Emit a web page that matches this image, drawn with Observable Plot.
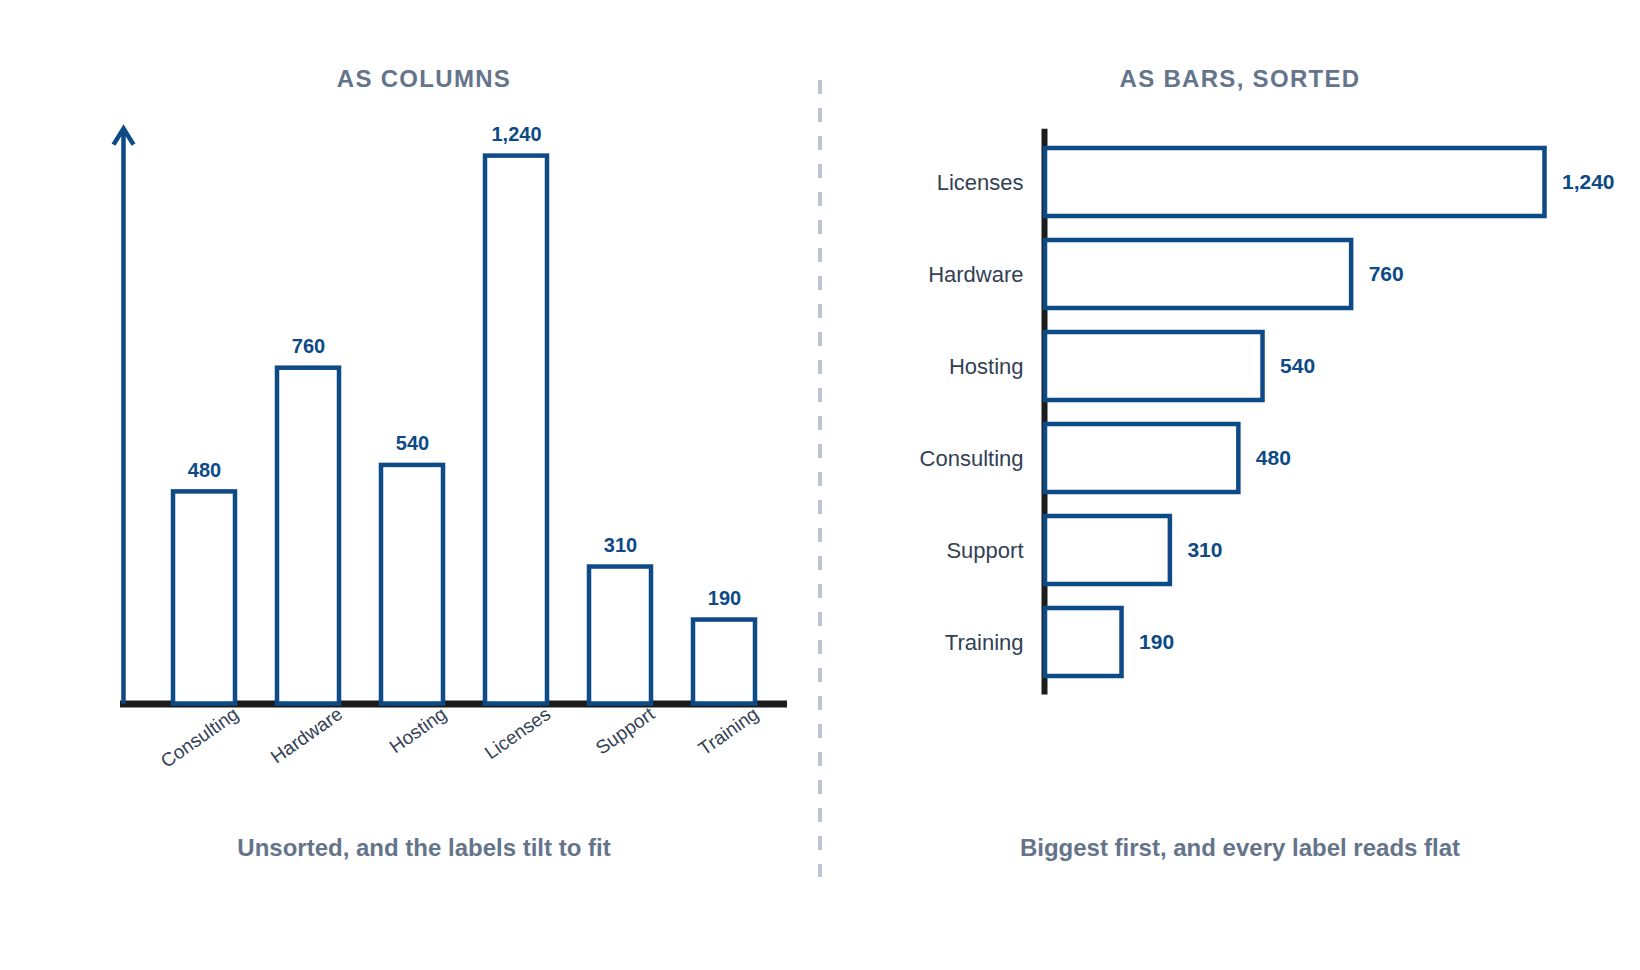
<!DOCTYPE html>
<html>
<head>
<meta charset="utf-8">
<script src="https://cdn.jsdelivr.net/npm/d3@7"></script>
<script src="https://cdn.jsdelivr.net/npm/@observablehq/plot@0.6"></script>
<style>
  html, body { margin: 0; padding: 0; background: #ffffff; }
  #page { position: relative; width: 1640px; height: 970px; overflow: hidden;
          font-family: "Liberation Sans", Arial, Helvetica, sans-serif; }
  .title { position: absolute; top: 67px; width: 600px; text-align: center; font-size: 24px;
           font-weight: 700; letter-spacing: 1.3px; color: #64748b; line-height: 24px; }
  .caption { position: absolute; top: 836px; width: 600px; text-align: center; font-size: 24px;
             font-weight: 700; color: #64748b; line-height: 24px; }
  .chart { position: absolute; top: 0; }
  #divider { position: absolute; left: 0; top: 0; }
</style>
</head>
<body>
<div id="page">
  <div class="title" style="left:124px">AS COLUMNS</div>
  <div class="title" style="left:940px">AS BARS, SORTED</div>
  <div id="left" class="chart" style="left:0px"></div>
  <div id="right" class="chart" style="left:820px"></div>
  <svg id="divider" width="1640" height="970">
    <line x1="820" x2="820" y1="80" y2="877" stroke="#bcc6d2" stroke-width="4" stroke-dasharray="14 14"></line>
  </svg>
  <div class="caption" style="left:124px">Unsorted, and the labels tilt to fit</div>
  <div class="caption" style="left:940px">Biggest first, and every label reads flat</div>
</div>
<script>
// ---- data ----
const categories = ["Consulting", "Hardware", "Hosting", "Licenses", "Support", "Training"];
const values = [480, 760, 540, 1240, 310, 190];

// ---- styles ----
const BLUE = "#0d4a86";
const AXIS = "#1c1c1c";
const LABEL = "#334155";
const FONT = "'Liberation Sans', Arial, Helvetica, sans-serif";
const fmt = d3.format(",");

const data = categories.map((c, i) => ({category: c, value: values[i]}));
const sorted = d3.sort(data, d => -d.value);

// vertical axis with an arrowhead, drawn from the plot's own dimensions
function yArrow(index, scales, channels, dims) {
  const {marginLeft, marginTop, height, marginBottom} = dims;
  const x0 = marginLeft + 3.5;
  const yBase = height - marginBottom;
  const tip = marginTop - 27;
  const g = d3.create("svg:g")
    .attr("fill", "none").attr("stroke", BLUE).attr("stroke-width", 4.5)
    .attr("stroke-linejoin", "miter").attr("stroke-linecap", "butt");
  g.append("path").attr("d", `M${x0},${yBase}V${tip + 1}`);
  g.append("path").attr("d", `M${x0 - 10},${tip + 16}L${x0},${tip}L${x0 + 10},${tip + 16}`);
  return g.node();
}

const left = Plot.plot({
  width: 820,
  height: 800,
  marginLeft: 120,
  marginRight: 33,
  marginTop: 155.6,
  marginBottom: 96.5,
  style: {background: "transparent", fontFamily: FONT, overflow: "visible"},
  x: {domain: categories, range: [131, 796.6], padding: 0.4, axis: null},
  y: {domain: [0, d3.max(values)], axis: null},
  marks: [
    Plot.ruleY([0], {stroke: AXIS, strokeWidth: 7}),
    yArrow,
    Plot.barY(data, {x: "category", y: "value", fill: "white", stroke: BLUE, strokeWidth: 4.5}),
    Plot.text(data, {x: "category", y: "value", text: d => fmt(d.value), lineAnchor: "bottom", dy: -15,
                     fontSize: 20, fontWeight: "bold", fill: BLUE}),
    Plot.text(data, {x: "category", y: () => 0, text: "category", rotate: -35, textAnchor: "end",
                     lineAnchor: "middle", dx: 32, dy: 8, fontSize: 19, fill: LABEL})
  ]
});
document.getElementById("left").append(left);

const right = Plot.plot({
  width: 820,
  height: 800,
  marginLeft: 225,
  marginRight: 95.5,
  marginTop: 128.7,
  marginBottom: 105.4,
  style: {background: "transparent", fontFamily: FONT, overflow: "visible"},
  x: {domain: [0, d3.max(values)], axis: null},
  y: {domain: sorted.map(d => d.category), paddingInner: 0.26, paddingOuter: 0.2, axis: null},
  marks: [
    Plot.ruleX([0], {stroke: AXIS, strokeWidth: 6, dx: -1}),
    Plot.barX(sorted, {x: "value", y: "category", fill: "white", stroke: BLUE, strokeWidth: 4.5}),
    Plot.text(sorted, {x: () => 0, y: "category", text: "category", textAnchor: "end", dx: -22,
                       fontSize: 22, fill: LABEL}),
    Plot.text(sorted, {x: "value", y: "category", text: d => fmt(d.value), textAnchor: "start", dx: 17,
                       fontSize: 21, fontWeight: "bold", fill: BLUE})
  ]
});
document.getElementById("right").append(right);
</script>
</body>
</html>
